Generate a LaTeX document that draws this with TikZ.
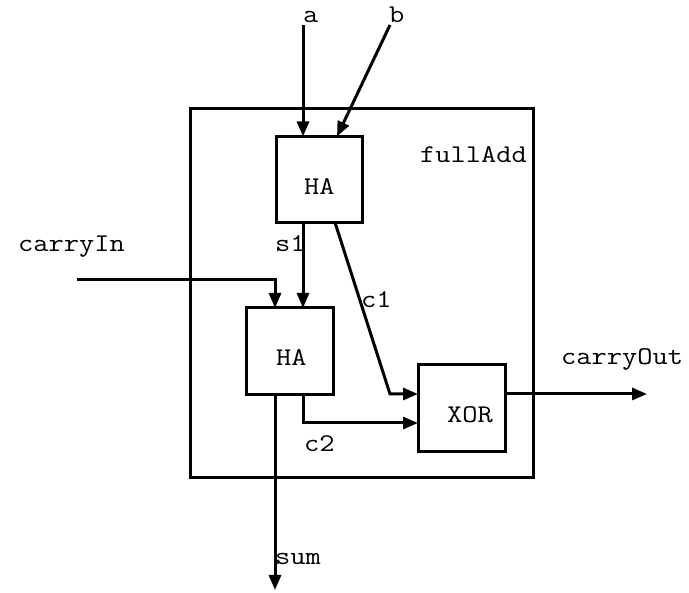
\documentclass[tikz,border=0pt]{standalone}
\usepackage{fontspec}
\setmonofont[FakeStretch=1.16]{Latin Modern Mono}
\usetikzlibrary{arrows.meta}
\begin{document}
\begin{tikzpicture}[x=1pt,y=-1pt,
  blk/.style={draw,line width=3pt,minimum width=86pt,minimum height=86pt,inner sep=0pt,outer sep=0pt},
  wire/.style={line width=3pt},
  arw/.style={wire,-{Triangle[length=15pt,width=12pt]}},
  lbl/.style={font=\fontsize{25.5}{26}\selectfont\ttfamily,anchor=base west,inner sep=0pt}]
\useasboundingbox (0,0) rectangle (689,593);
% boxes
\node[blk,minimum width=343pt,minimum height=369pt] (fa) at (361.5,293.5) {};
\node[blk] (ha1) at (319,179.5) {};
\node[blk,minimum width=87pt,minimum height=87pt] (ha2) at (289.5,351.5) {};
\node[blk,minimum width=87pt,minimum height=87pt] (xor) at (461.5,408.5) {};
% labels
\node[lbl] (tfa) at (420,163) {fullAdd};
\node[lbl] (tha1) at (304,195) {HA};
\node[lbl] (tha2) at (276,366) {HA};
\node[lbl] (txor) at (447,423) {XOR};
\node[lbl] (ta) at (303,23) {a};
\node[lbl] (tb) at (389,23) {b};
\node[lbl] (tci) at (18,252) {carryIn};
\node[lbl] (ts1) at (275,252) {s1};
\node[lbl] (tc1) at (361,308) {c1};
\node[lbl] (tc2) at (304,452) {c2};
\node[lbl] (tsum) at (275,565) {sum};
\node[lbl] (tco) at (561,365) {carryOut};
% coordinates
\coordinate (aS) at (303,25);
\coordinate (bS) at (390,25);
\coordinate (ciS) at (77,280);
\coordinate (c1k) at (390,394);
\coordinate (c2y) at (418,423);
\coordinate (sumE) at (275,590);
\coordinate (coE) at (647,394);
% wires
\draw[arw] (aS) -- (aS |- ha1.north);
\draw[arw] (bS) -- ([xshift=61pt]ha1.north west);
\draw[arw] (ciS) -| ([xshift=29pt]ha2.north west);
\draw[arw] ([xshift=27pt]ha1.south west) -- ([xshift=27pt]ha1.south west |- ha2.north);
\draw[arw] ([xshift=59pt]ha1.south west) -- (c1k) -- (c1k -| xor.west);
\draw[arw] ([xshift=57pt]ha2.south west) |- (c2y -| xor.west);
\draw[arw] ([xshift=29pt]ha2.south west) -- (sumE);
\draw[arw] (coE -| xor.east) -- (coE);
\end{tikzpicture}
\end{document}
